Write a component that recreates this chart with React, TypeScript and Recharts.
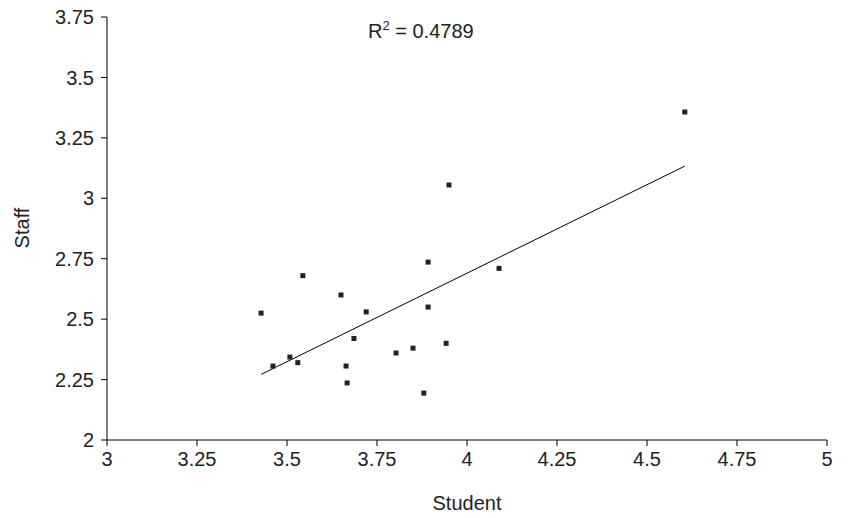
import { ScatterChart, Scatter, XAxis, YAxis } from 'recharts'

const studentScores = [3.428, 3.461, 3.508, 3.53, 3.544, 3.65, 3.664, 3.667, 3.686, 3.72, 3.803, 3.85, 3.892, 3.892, 3.88, 3.942, 3.95, 4.089, 4.605]
const staffScores = [2.525, 2.306, 2.343, 2.32, 2.68, 2.6, 2.306, 2.236, 2.42, 2.53, 2.36, 2.38, 2.736, 2.55, 2.194, 2.4, 3.055, 2.71, 3.357]
const xTicks = [3, 3.25, 3.5, 3.75, 4, 4.25, 4.5, 4.75, 5]
const yTicks = [2, 2.25, 2.5, 2.75, 3, 3.25, 3.5, 3.75]

const points = studentScores.map((x, i) => ({ x, y: staffScores[i] }))

// least squares fit for the trend line
const n = points.length
const mx = studentScores.reduce((a, b) => a + b, 0) / n
const my = staffScores.reduce((a, b) => a + b, 0) / n
let sxy = 0
let sxx = 0
points.forEach(p => {
    sxy += (p.x - mx) * (p.y - my)
    sxx += (p.x - mx) * (p.x - mx)
})
const slope = sxy / sxx
const intercept = my - slope * mx
const xMin = Math.min(...studentScores)
const xMax = Math.max(...studentScores)
const trend = [
    { x: xMin, y: intercept + slope * xMin },
    { x: xMax, y: intercept + slope * xMax }
]

const family = 'Liberation Sans, Arial, sans-serif'
const tickStyle = { fontSize: 20, fill: '#222', fontFamily: family }

const Dot = (props: any) => (
    <rect x={props.cx - 2.5} y={props.cy - 2.5} width={5} height={5} fill="#222" />
)

export default function App() {
    return (
        <div style={{ margin: -8, background: '#fff', fontFamily: family }}>
            <ScatterChart width={850} height={518} margin={{ top: 17, right: 23, bottom: 48, left: 47 }}>
                <XAxis
                    type="number"
                    dataKey="x"
                    domain={[3, 5]}
                    ticks={xTicks}
                    height={30}
                    stroke="#000"
                    tickSize={6}
                    tickMargin={6}
                    tick={tickStyle}
                    fontSize={20}
                    allowDataOverflow
                />
                <YAxis
                    type="number"
                    dataKey="y"
                    domain={[2, 3.75]}
                    ticks={yTicks}
                    width={60}
                    stroke="#000"
                    tickSize={6}
                    tickMargin={7}
                    tick={tickStyle}
                    fontSize={20}
                    allowDataOverflow
                />
                <Scatter data={trend} line={{ stroke: '#000', strokeWidth: 1 }} shape={() => null} isAnimationActive={false} />
                <Scatter data={points} shape={Dot} isAnimationActive={false} />
                <text x={467} y={510} textAnchor="middle" fontSize={20} fill="#222" fontFamily={family}>Student</text>
                <text x={29} y={228} textAnchor="middle" fontSize={20} fill="#222" fontFamily={family} transform="rotate(-90 29 228)">Staff</text>
                <text x={368} y={38} fontSize={20} fill="#222" fontFamily={family}>
                    R<tspan dy={-8} fontSize={13}>2</tspan><tspan dy={8}> = 0.4789</tspan>
                </text>
            </ScatterChart>
        </div>
    )
}
